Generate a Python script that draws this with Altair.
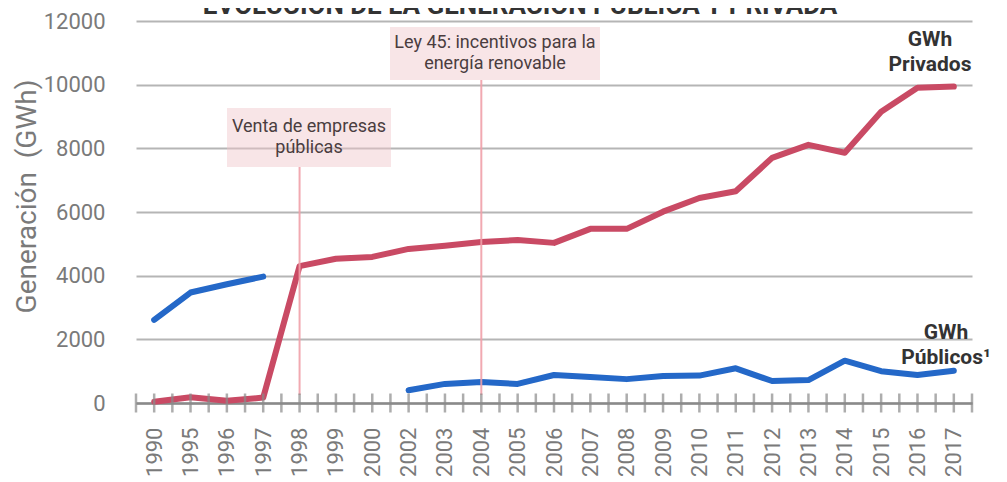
import altair as alt
import pandas as pd

years = ["1990", "1995", "1996", "1997", "1998", "1999", "2000", "2002", "2003",
         "2004", "2005", "2006", "2007", "2008", "2009", "2010", "2011", "2012",
         "2013", "2014", "2015", "2016", "2017"]
privados = [40, 180, 70, 170, 4300, 4530, 4590, 4840, 4940, 5060, 5120, 5030,
            5470, 5470, 6010, 6440, 6650, 7700, 8110, 7860, 9150, 9900, 9940]
publicos = [2610, 3470, 3730, 3970, None, None, None, 400, 600, 660, 600, 880,
            820, 750, 850, 860, 1090, 690, 720, 1330, 1000, 880, 1010]
y_ticks = [0, 2000, 4000, 6000, 8000, 10000, 12000]
event_years = ["1998", "2004"]
event_labels = ["Venta de empresas\npúblicas", "Ley 45: incentivos para la\nenergía renovable"]
title_text = "EVOLUCIÓN DE LA GENERACIÓN PÚBLICA Y PRIVADA"

FONT = "Roboto, Liberation Sans, sans-serif"
RED = "#c94a64"
BLUE = "#2468c8"
GRAY = "#7a7a7a"

rows = []
for i, (y, p, q) in enumerate(zip(years, privados, publicos)):
    rows.append({"idx": i, "year": y, "value": p, "series": "Privados", "segment": "p"})
    if q is not None:
        rows.append({"idx": i, "year": y, "value": q, "series": "Públicos",
                     "segment": "a" if i < 4 else "b"})
df = pd.DataFrame(rows)

n = len(years)
tick_df = pd.DataFrame({"pos": [k / 2 - 0.5 for k in range(2 * n + 1)]})
ev_df = pd.DataFrame({"idx": [years.index(y) for y in event_years], "label": event_labels})

label_expr = "[" + ",".join("'%s'" % y for y in years) + "][datum.value]"

xscale = alt.Scale(domain=[-0.5, n - 0.5], nice=False, zero=False)
yscale = alt.Scale(domain=[0, 12000], nice=False)

x_axis = alt.Axis(values=list(range(n)), labelExpr=label_expr, labelAngle=-90,
                  labelFont=FONT, labelFontSize=22, labelColor=GRAY, labelPadding=24,
                  labelOverlap=False, labelFlush=False, labelBound=False,
                  ticks=False, grid=False, domainColor="#8a8a8a", domainWidth=2.5,
                  title=None)
y_axis = alt.Axis(values=y_ticks, format="d", labelFont=FONT, labelFontSize=22, labelColor=GRAY,
                  labelPadding=31, ticks=False, tickSize=0, domain=False,
                  labelOverlap=False,
                  grid=True, gridColor="#b5b5b5", gridWidth=2,
                  title="Generación\u00a0 (GWh)", titleFont=FONT, titleFontSize=28,
                  titleFontWeight="normal", titleColor=GRAY, titleAngle=-90,
                  titleAlign="center", titleBaseline="middle", titleX=-109, titleY=175)


def X(field):
    return alt.X(field, scale=xscale, axis=x_axis)


lines = alt.Chart(df).mark_line(strokeWidth=6, strokeJoin="round", strokeCap="round").encode(
    x=X("idx:Q"),
    y=alt.Y("value:Q", scale=yscale, axis=y_axis),
    color=alt.Color("series:N", scale=alt.Scale(domain=["Privados", "Públicos"], range=[RED, BLUE]), legend=None),
    detail="segment:N",
)

ticks = alt.Chart(tick_df).mark_tick(orient="vertical", size=19, thickness=2.5, color="#8a8a8a").encode(
    x=X("pos:Q"),
    y=alt.Y(datum=0, scale=yscale, axis=y_axis),
)

ev1 = ev_df[ev_df.idx == years.index("1998")]
ev2 = ev_df[ev_df.idx == years.index("2004")]

box1 = alt.Chart(ev1).mark_rect(fill="#f0c6c9", opacity=0.45).encode(
    x=alt.value(91), x2=alt.value(255), y=alt.value(87), y2=alt.value(146))
box2 = alt.Chart(ev2).mark_rect(fill="#f0c6c9", opacity=0.45).encode(
    x=alt.value(254), x2=alt.value(464), y=alt.value(6), y2=alt.value(59))

rule1 = alt.Chart(ev1).mark_rule(color="#f0a0a8", strokeWidth=2, opacity=0.9).encode(
    x=X("idx:Q"), y=alt.value(146), y2=alt.value(374))
rule2 = alt.Chart(ev2).mark_rule(color="#f0a0a8", strokeWidth=2, opacity=0.9).encode(
    x=X("idx:Q"), y=alt.value(59), y2=alt.value(374))

txt_style = dict(font=FONT, fontSize=18, color="#4a3d3f", lineBreak="\n", lineHeight=21,
                 align="center", baseline="middle")
text1 = alt.Chart(ev1).mark_text(**txt_style).encode(
    text="label:N", x=alt.value(173), y=alt.value(106))
text2 = alt.Chart(ev2).mark_text(**txt_style).encode(
    text="label:N", x=alt.value(359), y=alt.value(22))

lab_style = dict(font=FONT, fontSize=21, fontWeight="bold", color="#333333",
                 lineBreak="\n", lineHeight=25, align="center", baseline="middle")
lab_priv = alt.Chart(pd.DataFrame({"t": ["GWh\nPrivados"]})).mark_text(**lab_style).encode(
    text="t:N", x=alt.value(794), y=alt.value(19))
lab_pub = alt.Chart(pd.DataFrame({"t": ["GWh\nPúblicos¹"]})).mark_text(**lab_style).encode(
    text="t:N", x=alt.value(810), y=alt.value(312))

title = alt.Chart(pd.DataFrame({"t": [title_text]})).mark_text(
    font=FONT, fontSize=26, fontWeight="bold", color="#333333", align="center",
    baseline="alphabetic").encode(text="t:N", x=alt.value(384), y=alt.value(-7))

chart = alt.layer(box1, box2, lines, rule1, rule2, ticks, text1, text2, lab_priv, lab_pub, title).properties(
    width=836, height=382,
    padding={"left": 128, "top": 13, "right": 27, "bottom": 90},
    autosize=alt.AutoSizeParams(type="none"),
).configure_view(stroke=None).configure_axis(labelOverlap=False)

chart.save("out.html", embed_options={"renderer": "svg", "actions": False})
